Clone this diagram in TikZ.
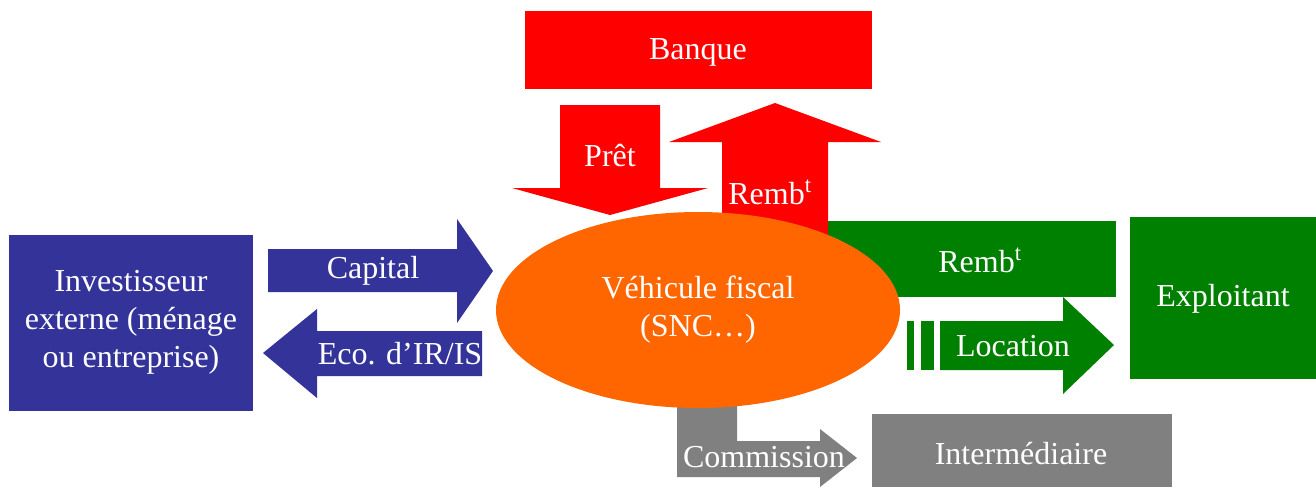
\documentclass[tikz,border=0pt]{standalone}
\usepackage{fontspec}
\setmainfont{Liberation Serif}
\usetikzlibrary{shapes.geometric}

\definecolor{rouge}{HTML}{FF0000}
\definecolor{vert}{HTML}{008000}
\definecolor{bleu}{HTML}{333399}
\definecolor{orange}{HTML}{FF6600}
\definecolor{gris}{HTML}{808080}

\tikzset{
	lbl/.style={text=white, font=\fontsize{24}{28.5}\selectfont, align=center, inner sep=0pt},
}

\begin{document}
\begin{tikzpicture}[x=0.75pt, y=-0.75pt]
	\useasboundingbox (0, 0) rectangle (1316, 487);

	\fill[rouge] (525, 11) rectangle (872, 89);
	\node[lbl] (banque) at (698, 52) {Banque};

	\fill[bleu] (9, 235) rectangle (253, 411);
	\node[lbl] (invest) at (131, 322) {Investisseur\\externe (ménage\\ou entreprise)};

	\fill[bleu] (268, 249) -- (457, 249) -- (457, 219) -- (493, 271) -- (457, 323) -- (457, 292) -- (268, 292) -- cycle;
	\node[lbl] (capital) at (373, 271) {Capital};
	\fill[bleu] (482, 331) -- (317, 331) -- (317, 309) -- (263, 353) -- (317, 398) -- (317, 376) -- (482, 376) -- cycle;
	\node[lbl] (eco) at (400, 354) {Eco. d’IR/IS};

	\fill[vert] (760, 221) rectangle (1116, 297);
	\node[lbl] (rembV) at (980, 260) {Remb\textsuperscript{t}};

	\fill[rouge] (560, 105) -- (660, 105) -- (660, 188) -- (708, 188) -- (610, 215) -- (512, 188) -- (560, 188) -- cycle;
	\node[lbl] (pret) at (610, 156) {Prêt};
	\fill[rouge] (722, 260) -- (722, 142) -- (669, 142) -- (775, 103) -- (881, 142) -- (828, 142) -- (828, 260) -- cycle;
	\node[lbl] (rembR) at (770, 192) {Remb\textsuperscript{t}};

	\fill[gris] (677, 380) -- (737, 380) -- (737, 441) -- (820, 441) -- (820, 429) -- (857, 458) -- (820, 487) -- (820, 477) -- (677, 477) -- cycle;
	\node[lbl] (commission) at (764, 457) {Commission};
	\fill[gris] (872, 414) rectangle (1172, 487);
	\node[lbl] (interm) at (1021, 454) {Intermédiaire};

	\node[ellipse, fill=orange, inner sep=0pt, minimum width=303pt, minimum height=147pt, lbl] (vehicule) at (698, 310) {Véhicule fiscal\\(SNC…)};

	\fill[vert] (907, 321) rectangle (914, 370);
	\fill[vert] (921, 321) rectangle (934, 370);
	\fill[vert] (940, 321) -- (1063, 321) -- (1063, 297) -- (1114, 345) -- (1063, 394) -- (1063, 370) -- (940, 370) -- cycle;
	\node[lbl] (location) at (1013, 346) {Location};

	\fill[vert] (1130, 217) rectangle (1316, 379);
	\node[lbl] (exploitant) at (1223, 299) {Exploitant};
\end{tikzpicture}
\end{document}
